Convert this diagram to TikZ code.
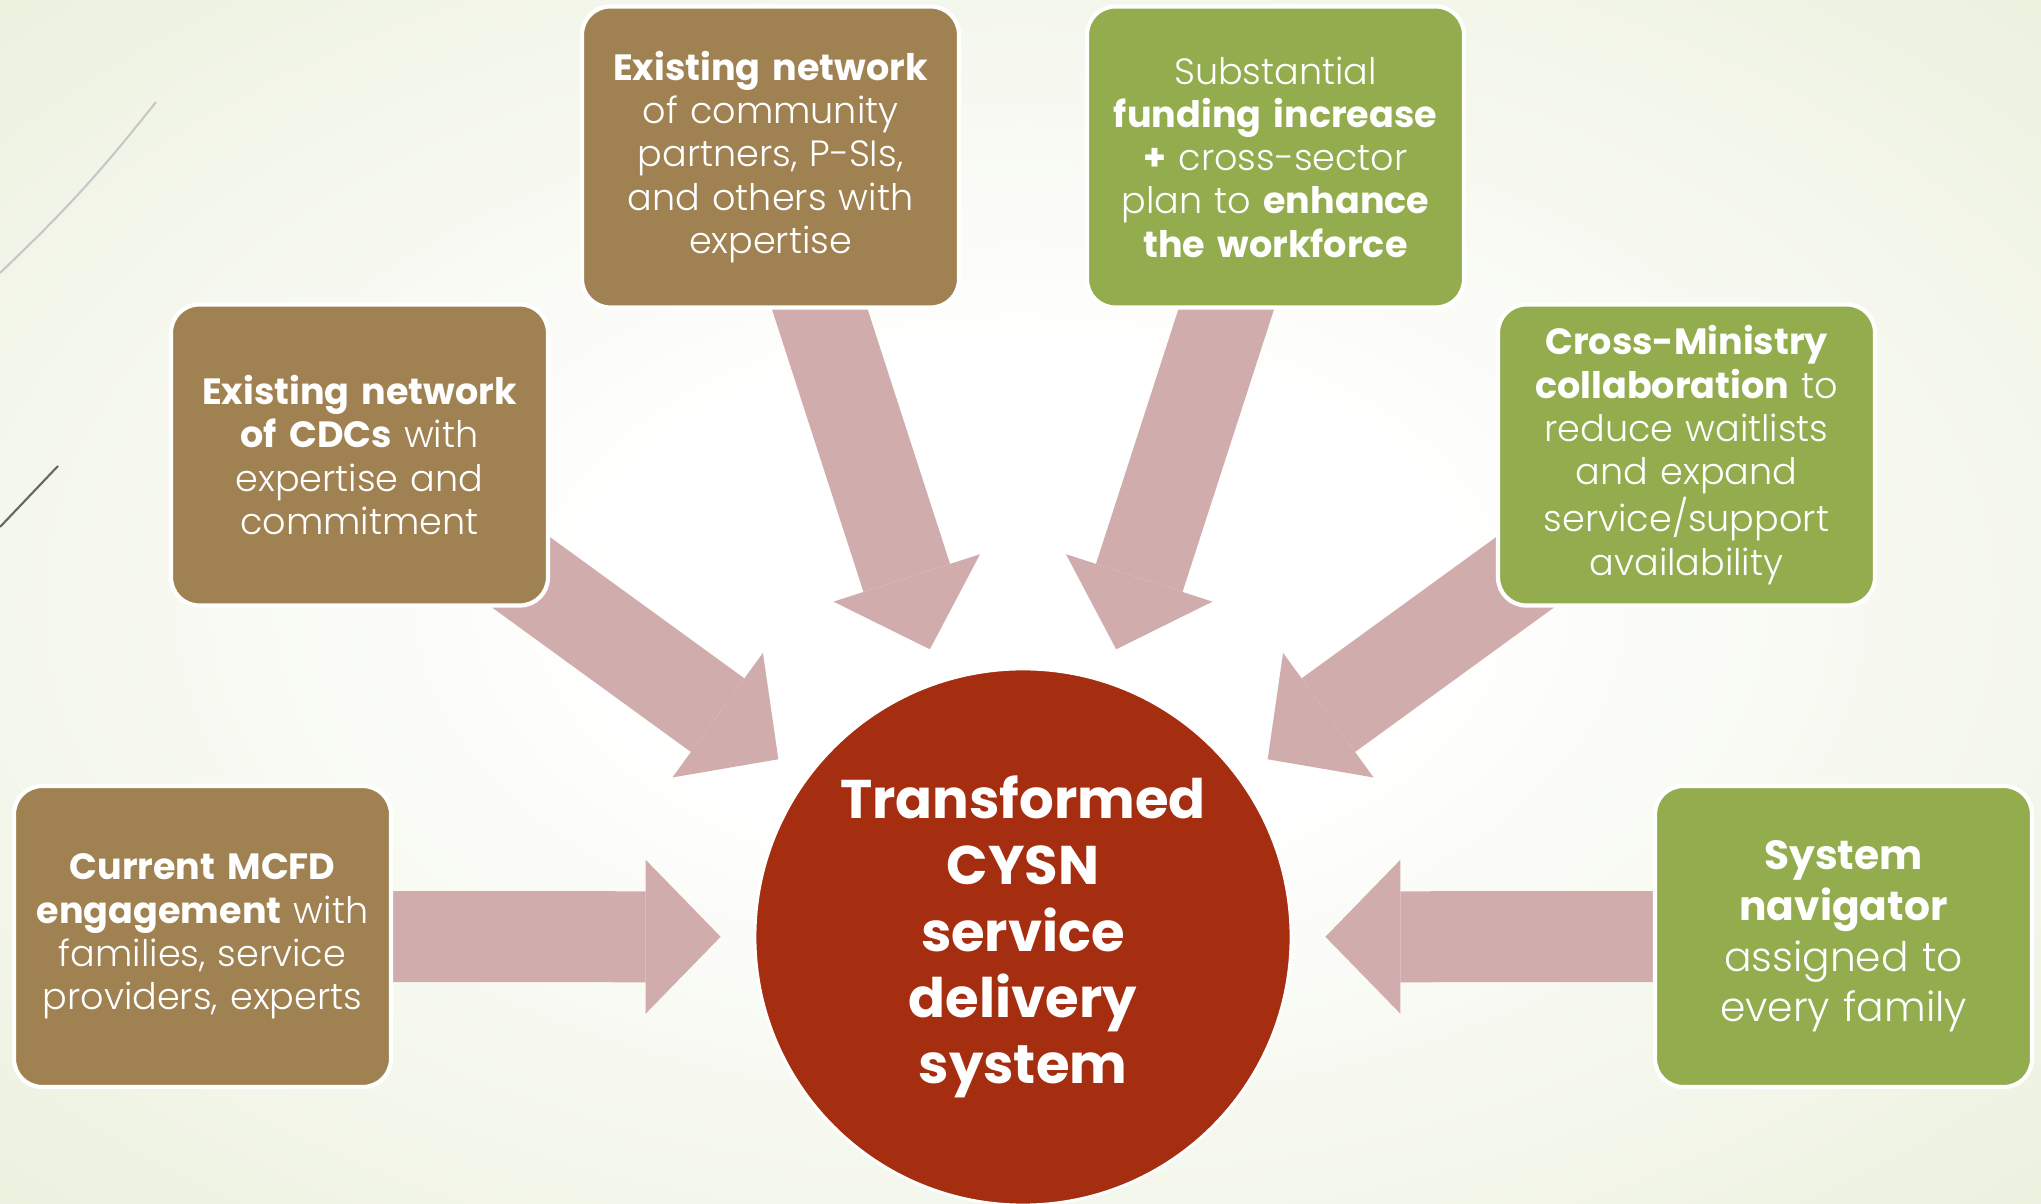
\documentclass[tikz,border=0pt]{standalone}
\usepackage{fontspec}
\setmainfont{Poppins}[UprightFont=* Light, BoldFont=* Bold]
\usetikzlibrary{arrows.meta, backgrounds, positioning}
\definecolor{boxBrown}{RGB}{160,130,82}
\definecolor{boxGreen}{RGB}{147,172,78}
\definecolor{hubRed}{RGB}{165,46,17}
\definecolor{arrowPink}{RGB}{208,173,172}
\definecolor{bgMid}{RGB}{236,241,222}
\definecolor{bgGreen}{RGB}{222,231,196}
\pgfdeclareradialshading{slideglow}{\pgfpoint{0bp}{0bp}}{%
  color(0bp)=(white); color(10bp)=(white); color(36bp)=(bgMid);
  color(60bp)=(bgGreen); color(80bp)=(bgGreen)}
\tikzset{
  block/.style={rectangle, draw=white, line width=1.2pt, text=white,
                minimum width=3.77cm, minimum height=3.01cm, text width=3.6cm,
                align=center, rounded corners=8pt, inner sep=0pt,
                font=\fontsize{10.4}{12.3}\selectfont},
  blockB/.style={block, fill=boxBrown},
  blockG/.style={block, fill=boxGreen},
  hub/.style={circle, fill=hubRed, draw=white, line width=0.8pt,
              minimum size=5.36cm, text=white, align=center,
              font=\fontsize{15.5}{18.9}\selectfont\bfseries},
  bigarrow/.style={draw=arrowPink, line width=0.91cm, shorten >=0.33cm,
                   -{Triangle[length=0.75cm, width=1.54cm, line width=0pt]}},
  deco/.style={line width=0.6pt},
}

\begin{document}
\begin{tikzpicture}
  \useasboundingbox (0,0) rectangle (20.41,12.04);

  \node[hub] (hub) at (10.23,2.67) {Transformed\\CYSN\\service\\delivery\\system};

  \node[blockB] (commnet) at (7.705,10.47)  {\textbf{Existing network}\\of community\\partners, P-SIs,\\and others with\\expertise};
  \node[blockG] (funding) at (12.755,10.47) {Substantial\\\textbf{funding increase}\\\textbf{+} cross-sector\\plan to \textbf{enhance}\\\textbf{the workforce}};
  \node[blockB] (cdcs)    at (3.595,7.49)   {\textbf{Existing network}\\\textbf{of CDCs} with\\expertise and\\commitment};
  \node[blockG] (ministry) at (16.865,7.49) {\textbf{Cross-Ministry}\\\textbf{collaboration} to\\reduce waitlists\\and expand\\service/support\\availability};
  \node[blockB] (mcfd)    at (2.025,2.675)  {\textbf{Current MCFD}\\\textbf{engagement} with\\families, service\\providers, experts};
  \node[blockG, font=\fontsize{11.6}{14.4}\selectfont] (navigator) at (18.435,2.675) {\textbf{System}\\\textbf{navigator}\\assigned to\\every family};

  \begin{scope}[on background layer]
    \shade[shading=slideglow] (0,0) rectangle (20.41,12.04);
    % theme strokes, top left
    \draw[deco, draw=black!22] (1.56,11.02) to[bend left=4] (0,9.31);
    \draw[deco, draw=black!60] (0.58,7.38) -- (0,6.77);
    \foreach \b in {commnet, funding, cdcs, ministry, mcfd, navigator}
      \draw[bigarrow] (\b.center) -- (hub);
  \end{scope}

\end{tikzpicture}
\end{document}
